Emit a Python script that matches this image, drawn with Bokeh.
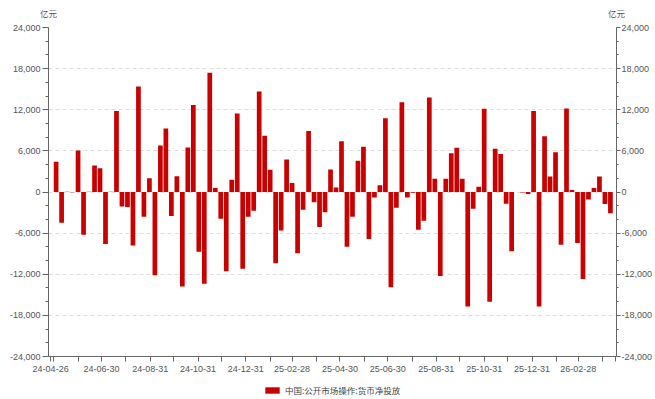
import pandas as pd
from bokeh.plotting import figure
from bokeh.layouts import column
from bokeh.models import (LinearAxis, FixedTicker, Range1d, Legend, LegendItem,
                          NumeralTickFormatter, ColumnDataSource)
from bokeh.embed import file_html
from bokeh.resources import INLINE

# ---- data (亿元, weekly) ----
first_week = "2024-05-03"
net_injection = [
    4400, -4500, 50, -50, 6050, -6250, 50, 3850, 3450, -7600,
    50, 11800, -2100, -2200, -7800, 15400, -3600, 2000, -12150, 6800,
    9250, -3500, 2300, -13800, 6500, 12700, -8700, -13400, 17400, 600,
    -3900, -11550, 1800, 11450, -11200, -3600, -2750, 14650, 8200, 3250,
    -10400, -5600, 4750, 1300, -8950, -2600, 8900, -1500, -5100, -2950,
    3300, 650, 7400, -8000, -3600, 4550, 6600, -6850, -800, 1000,
    10750, -13900, -2300, 13100, -800, -100, -5500, -4200, 13800, 1950,
    -12250, 1950, 5650, 6450, 1950, -16700, -2450, 750, 12150, -16000,
    6300, 5550, -1700, -8650, 0, -80, -300, 11800, -16700, 8150,
    2250, 5800, -7700, 12200, 300, -7450, -12700, -1100, 600, 2250,
    -1750, -3100,
]
series_name = "中国:公开市场操作:货币净投放"
unit_label = "亿元"

labeled_tick_dates = ["2024-04-26", "2024-06-30", "2024-08-31", "2024-10-31", "2024-12-31",
                      "2025-02-28", "2025-04-30", "2025-06-30", "2025-08-31", "2025-10-31",
                      "2025-12-31", "2026-02-28"]
labeled_tick_text = ["24-04-26", "24-06-30", "24-08-31", "24-10-31", "24-12-31",
                     "25-02-28", "25-04-30", "25-06-30", "25-08-31", "25-10-31",
                     "25-12-31", "26-02-28"]
unlabeled_tick_dates = ["2024-04-30", "2024-05-31", "2024-07-31", "2024-09-30", "2024-11-30",
                        "2025-01-31", "2025-03-31", "2025-05-31", "2025-07-31", "2025-09-30",
                        "2025-11-30", "2026-01-31", "2026-03-31", "2026-04-17"]
y_major_ticks = [-24000, -18000, -12000, -6000, 0, 6000, 12000, 18000, 24000]
y_minor_ticks = list(range(-24000, 24001, 2000))

x_start, x_end = "2024-04-23 07:00", "2026-04-17 18:00"


def ms(d):
    return float(pd.Timestamp(d).value // 10**6)


dates = pd.date_range(first_week, periods=len(net_injection), freq="7D")
source = ColumnDataSource(dict(date=dates, value=net_injection))

BAR = "#C80000"
AXIS = "#666666"
TXT = "#555555"
FONT = "Liberation Sans"
CJK = "Noto Sans CJK SC"

p = figure(width=655, height=376, output_backend="svg", toolbar_location=None,
           x_axis_type="datetime",
           x_range=Range1d(ms(x_start), ms(x_end)),
           y_range=Range1d(-24000, 24000),
           min_border_left=48, min_border_right=36, min_border_top=27, min_border_bottom=20)
p.outline_line_color = None
p.background_fill_color = "white"
p.border_fill_color = "white"

r = p.vbar(x="date", top="value", source=source, width=6 * 86400000,
           fill_color=BAR, line_color=None)

# grid
p.xgrid.visible = False
p.ygrid.ticker = FixedTicker(ticks=y_major_ticks)
p.ygrid.grid_line_color = "#dddddd"
p.ygrid.grid_line_dash = "4 3"
p.ygrid.grid_line_width = 1

# x axis
all_ticks = [ms(d) for d in labeled_tick_dates + unlabeled_tick_dates]
overrides = {ms(d): t for d, t in zip(labeled_tick_dates, labeled_tick_text)}
overrides.update({ms(d): "" for d in unlabeled_tick_dates})
xa = p.xaxis[0]
xa.ticker = FixedTicker(ticks=all_ticks)
xa.major_label_overrides = overrides
xa.major_tick_in = 0
xa.major_tick_out = 5
xa.minor_tick_in = 0
xa.minor_tick_out = 0
xa.major_label_standoff = 4
xa.axis_line_color = AXIS
xa.major_tick_line_color = AXIS
xa.major_label_text_color = TXT
xa.major_label_text_font = FONT
xa.major_label_text_font_size = "9px"

# unit labels "亿元" above both y axes, as tick labels of a bare top axis
ux = [ms(x_start), ms(x_end)]
top_axis = LinearAxis(ticker=FixedTicker(ticks=ux),
                      major_label_overrides={v: unit_label for v in ux})
top_axis.axis_line_color = None
top_axis.major_tick_line_color = None
top_axis.minor_tick_line_color = None
top_axis.major_tick_out = 0
top_axis.major_tick_in = 0
top_axis.minor_tick_out = 0
top_axis.minor_tick_in = 0
top_axis.major_label_standoff = 9
top_axis.major_label_text_font = CJK
top_axis.major_label_text_font_size = "8.5px"
top_axis.major_label_text_color = TXT
p.add_layout(top_axis, "above")


def style_y(ax):
    ax.ticker = FixedTicker(ticks=y_major_ticks, minor_ticks=y_minor_ticks)
    ax.formatter = NumeralTickFormatter(format="0,0")
    ax.major_tick_in = 0
    ax.major_tick_out = 6
    ax.minor_tick_in = 0
    ax.minor_tick_out = 3
    ax.major_label_standoff = 2
    ax.axis_line_color = AXIS
    ax.major_tick_line_color = AXIS
    ax.minor_tick_line_color = AXIS
    ax.major_label_text_color = TXT
    ax.major_label_text_font = FONT
    ax.major_label_text_font_size = "9px"


style_y(p.yaxis[0])
ry = LinearAxis()
style_y(ry)
ry.major_tick_out = 4
ry.minor_tick_out = 2
ry.major_label_standoff = 1
p.add_layout(ry, "right")

# legend strip below the chart (its frame aligns with the chart's frame)
lg = figure(width=655, height=23, output_backend="svg", toolbar_location=None,
            x_range=Range1d(0, 1), y_range=Range1d(0, 1),
            x_axis_location=None, y_axis_location=None,
            min_border_left=0, min_border_right=0, min_border_top=0, min_border_bottom=0)
lg.outline_line_color = None
lg.grid.visible = False
lg.background_fill_color = "white"
lg.border_fill_color = "white"
# same series, hidden here: the strip only shows its legend key
key = lg.vbar(x="date", top="value", source=source, width=6 * 86400000,
              fill_color=BAR, line_color=None, visible=False)
legend = Legend(items=[LegendItem(label=series_name, renderers=[key])],
                location=(215, 3), orientation="horizontal",
                glyph_width=18, glyph_height=8, label_height=8,
                label_standoff=4, padding=0, margin=0, spacing=0,
                border_line_color=None, background_fill_alpha=0,
                inactive_fill_alpha=0,
                label_text_font=CJK, label_text_font_size="8.5px",
                label_text_color="#444444")
lg.add_layout(legend, "center")

layout = column(p, lg, spacing=0)
open("out.html", "w").write(file_html(layout, INLINE))
